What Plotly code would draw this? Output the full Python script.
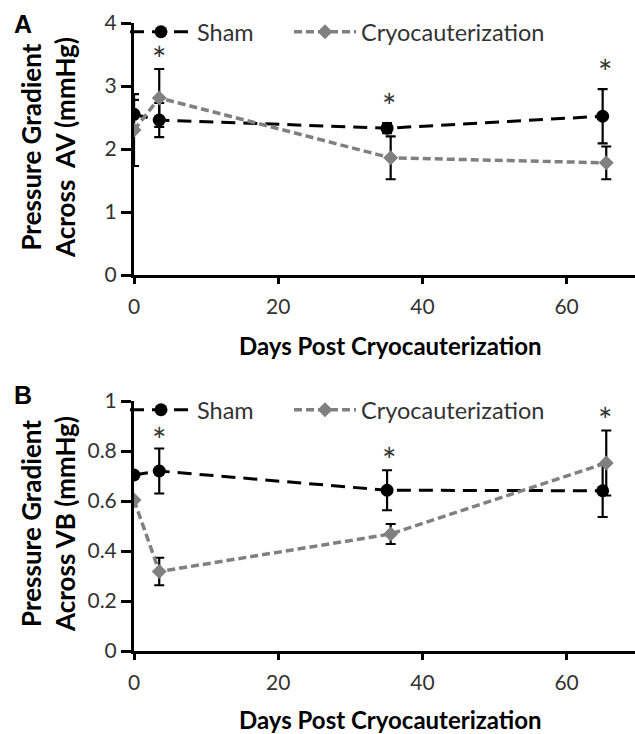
import plotly.graph_objects as go

# ---------------- data ----------------
days_sham = [0, 3.5, 35.1, 65.0]
days_cryo = [0, 3.5, 35.6, 65.5]

av_sham = [2.55, 2.46, 2.33, 2.52]
av_sham_err = [0.23, 0.27, 0.08, 0.43]
av_cryo = [2.30, 2.81, 1.86, 1.78]
av_cryo_err = [0.57, 0.46, 0.34, 0.26]

vb_sham = [0.704, 0.72, 0.643, 0.641]
vb_sham_err = [0.0, 0.09, 0.08, 0.105]
vb_cryo = [0.604, 0.318, 0.468, 0.752]
vb_cryo_err = [0.0, 0.055, 0.04, 0.13]

star_days = [3.5, 35.4, 65.3]
av_star_y = [3.53, 2.79, 3.33]
vb_star_y = [0.87, 0.79, 0.95]

x_ticks = [0, 20, 40, 60]
av_ticks = [0, 1, 2, 3, 4]
vb_ticks = [0, 0.2, 0.4, 0.6, 0.8, 1]
vb_ticklabels = ["0", "0.2", "0.4", "0.6", "0.8", "1"]

FONT = "Lato"
W, H = 635, 734
SHAM_C = "black"
CRYO_C = "#808080"


def py(px):
    return 1 - px / H


fig = go.Figure()


def add_pair(xa, ya, sham, sham_err, cryo, cryo_err, leg_s, leg_c):
    fig.add_trace(go.Scatter(
        x=days_sham, y=sham, name="Sham", mode="lines+markers",
        xaxis=xa, yaxis=ya, legend=leg_s,
        line=dict(color=SHAM_C, width=3, dash="14px,8px"),
        marker=dict(symbol="circle", size=13, color=SHAM_C),
        error_y=dict(type="data", array=sham_err, visible=True,
                     color="black", thickness=2.2, width=5),
    ))
    fig.add_trace(go.Scatter(
        x=days_cryo, y=cryo, name="Cryocauterization", mode="lines+markers",
        xaxis=xa, yaxis=ya, legend=leg_c,
        line=dict(color=CRYO_C, width=3.5, dash="8px,4px"),
        marker=dict(symbol="diamond", size=11.5, color=CRYO_C),
        error_y=dict(type="data", array=cryo_err, visible=True,
                     color="black", thickness=2.2, width=5),
    ))


add_pair("x", "y", av_sham, av_sham_err, av_cryo, av_cryo_err, "legend", "legend2")
add_pair("x2", "y2", vb_sham, vb_sham_err, vb_cryo, vb_cryo_err, "legend3", "legend4")

STAR_FONT = dict(family=FONT, size=34, color="#333")
annotations = []
for d, yv in zip(star_days, av_star_y):
    annotations.append(dict(x=d, y=yv, xref="x", yref="y", text="*", yshift=-6,
                            showarrow=False, font=STAR_FONT))
for d, yv in zip(star_days, vb_star_y):
    annotations.append(dict(x=d, y=yv, xref="x2", yref="y2", text="*", yshift=-6,
                            showarrow=False, font=STAR_FONT))

# panel letters
for letter, ypx in (("A", 24), ("B", 395)):
    annotations.append(dict(x=23 / W, y=py(ypx), xref="paper", yref="paper",
                            text="<b>%s</b>" % letter, showarrow=False,
                            xanchor="center", yanchor="middle",
                            font=dict(family="Liberation Sans", size=25, color="black")))

# axis titles
XT_FONT = dict(family=FONT, size=24, color="black")
YT_FONT = dict(family=FONT, size=26, color="black")
for ypx in (345, 719):
    annotations.append(dict(x=390 / W, y=py(ypx), xref="paper", yref="paper",
                            text="<b>Days Post Cryocauterization</b>", showarrow=False,
                            xanchor="center", yanchor="middle", borderpad=0, font=XT_FONT))
for txt, ypx in (("<b>Pressure Gradient<br>Across  AV (mmHg)</b>", 148),
                 ("<b>Pressure Gradient<br>Across VB (mmHg)</b>", 524)):
    annotations.append(dict(x=48 / W, y=py(ypx), xref="paper", yref="paper",
                            text=txt, showarrow=False, textangle=-90,
                            xanchor="center", yanchor="middle", font=YT_FONT))

x_left, x_right = 134, 635

common = dict(showline=True, linecolor="black", linewidth=3, ticks="outside",
              tickwidth=2.5, tickcolor="black", showgrid=False, zeroline=False,
              automargin=False, tickfont=dict(family=FONT, size=21, color="#333"))

xax = dict(common, range=[0, (x_right - x_left) / 7.21], tickvals=x_ticks, ticklen=6,
           ticklabelstandoff=5, domain=[x_left / W, 1])
yax = dict(common, ticklen=10, ticklabelstandoff=0)

LEG_FONT = dict(family=FONT, size=23.5, color="#333")


def leg(xpx, ypx):
    return dict(orientation="h", x=xpx / W, y=py(ypx), xanchor="left", yanchor="middle",
                font=LEG_FONT, bgcolor="rgba(0,0,0,0)", itemwidth=62)


fig.update_layout(
    width=W, height=H,
    margin=dict(l=0, r=0, t=0, b=0, autoexpand=False),
    paper_bgcolor="white", plot_bgcolor="white",
    showlegend=True,
    xaxis=dict(xax, anchor="y"),
    xaxis2=dict(xax, anchor="y2"),
    yaxis=dict(yax, range=[0, 4], tickvals=av_ticks, domain=[py(275), py(23)], anchor="x"),
    yaxis2=dict(yax, range=[0, 1], tickvals=vb_ticks, ticktext=vb_ticklabels,
                domain=[py(651), py(401)], anchor="x2"),
    legend=leg(125, 32),
    legend2=leg(289, 32),
    legend3=leg(125, 410),
    legend4=leg(289, 410),
    annotations=annotations,
)

fig.write_html("out.html", config={"displayModeBar": False},
               post_script="document.body.style.margin='0px';document.body.style.overflow='hidden';")
